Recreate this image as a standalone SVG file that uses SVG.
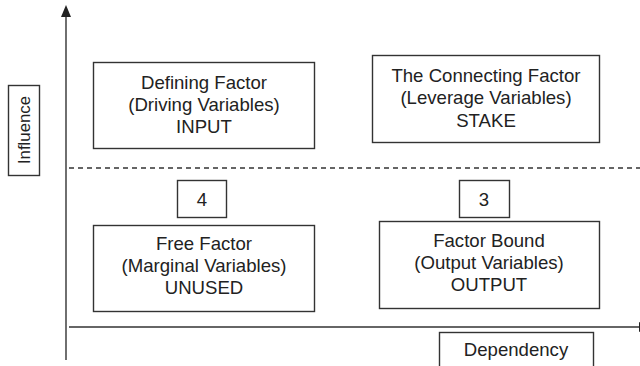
<svg xmlns="http://www.w3.org/2000/svg" width="640" height="366" viewBox="0 0 640 366">
  <style>
    .box { fill: #fff; stroke: #333; stroke-width: 1.4; }
    .axis { stroke: #333; stroke-width: 1.4; fill: none; }
    .head { fill: #222; }
    .lbl { font-family: "Liberation Sans", Arial, sans-serif; font-size: 18.6px; fill: #222; text-anchor: middle; }
  </style>
  <rect width="640" height="366" fill="#fff"/>

  <!-- axes and quadrant divider -->
  <g id="connectors">
    <line class="axis" x1="66" y1="16" x2="66" y2="360"/>
    <polygon class="head" points="66,5 61,17 71,17"/>
    <line class="axis" x1="69" y1="327" x2="640" y2="327"/>
    <polygon class="head" points="639,322 639,332 650,327"/>
    <line class="axis" x1="69" y1="168" x2="640" y2="168" stroke-dasharray="5,4"/>
  </g>

  <g id="influence">
    <rect class="box" x="8.5" y="85.5" width="31" height="90"/>
    <text class="lbl" style="font-size:16.8px" transform="translate(29.5,130) rotate(-90)">Influence</text>
  </g>

  <g id="defining">
    <rect class="box" x="93.5" y="62.5" width="221" height="86"/>
    <text class="lbl" x="204" y="89">Defining Factor</text>
    <text class="lbl" x="204" y="111">(Driving Variables)</text>
    <text class="lbl" x="204" y="133">INPUT</text>
  </g>

  <g id="connecting">
    <rect class="box" x="372.5" y="55.5" width="227" height="87"/>
    <text class="lbl" x="486" y="82">The Connecting Factor</text>
    <text class="lbl" x="486" y="104">(Leverage Variables)</text>
    <text class="lbl" x="486" y="127">STAKE</text>
  </g>

  <g id="q4">
    <rect class="box" x="177.5" y="180.5" width="49" height="37"/>
    <text class="lbl" x="202" y="206">4</text>
  </g>

  <g id="q3">
    <rect class="box" x="459.5" y="180.5" width="50" height="37"/>
    <text class="lbl" x="484" y="206">3</text>
  </g>

  <g id="free">
    <rect class="box" x="93.5" y="225.5" width="221" height="86"/>
    <text class="lbl" x="204" y="250">Free Factor</text>
    <text class="lbl" x="204" y="272">(Marginal Variables)</text>
    <text class="lbl" x="204" y="294">UNUSED</text>
  </g>

  <g id="bound">
    <rect class="box" x="379.5" y="221.5" width="220" height="87"/>
    <text class="lbl" x="489" y="247">Factor Bound</text>
    <text class="lbl" x="489" y="269">(Output Variables)</text>
    <text class="lbl" x="489" y="291">OUTPUT</text>
  </g>

  <g id="dependency">
    <rect class="box" x="439.5" y="332.5" width="154" height="40"/>
    <text class="lbl" x="516" y="356">Dependency</text>
  </g>
</svg>
